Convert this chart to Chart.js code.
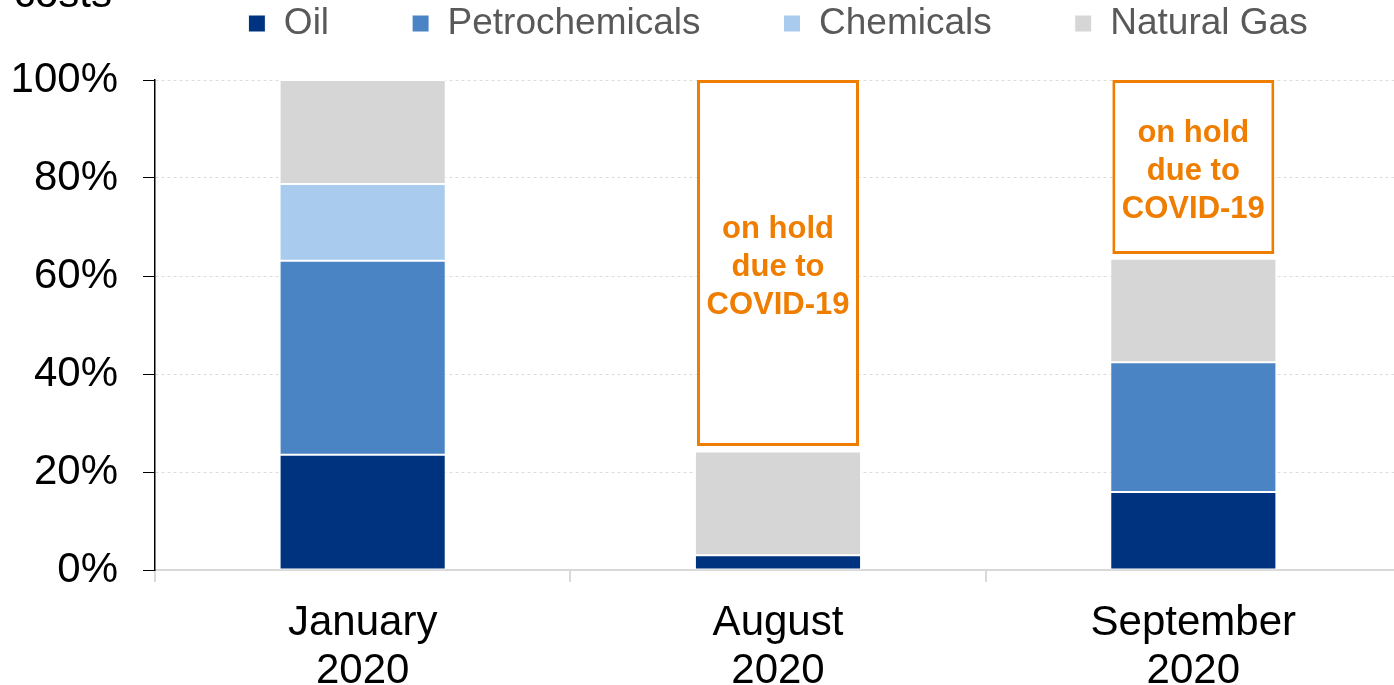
<!DOCTYPE html>
<html>
<head>
<meta charset="utf-8">
<title>Share of costs</title>
<script src="https://cdn.jsdelivr.net/npm/chart.js@4.4.1/dist/chart.umd.min.js"></script>
<style>
  html, body { margin: 0; padding: 0; background: #fff; overflow: hidden; }
  #wrap { width: 1402px; height: 700px; position: relative; }
</style>
</head>
<body>
<div id="wrap"><canvas id="costChart"></canvas></div>
<script>
// --- Data ---
const months = [['January', '2020'], ['August', '2020'], ['September', '2020']];
const oil = [23.5, 3.0, 15.9];
const petrochemicals = [39.6, null, 26.5];
const chemicals = [15.7, null, null];
const naturalGas = [21.2, 21.2, 21.1];

// surveys that were paused: box runs from holdFrom up to holdTo
const holdFrom = [null, 25.3, 64.5];
const holdTo = 100;
const holdText = ['on hold', 'due to', 'COVID-19'];

const yTicks = [0, 20, 40, 60, 80, 100];

const FONT = "'Liberation Sans', Arial, sans-serif";
const ORANGE = '#EE7D00';

// --- Plugins ---
// "costs" heading left over from the axis title, mostly above the top edge
const headingPlugin = {
    id: 'heading',
    afterDraw(chart) {
        const ctx = chart.ctx;
        ctx.save();
        ctx.font = '42px ' + FONT;
        ctx.fillStyle = '#000';
        ctx.textAlign = 'left';
        ctx.textBaseline = 'alphabetic';
        ctx.fillText('costs', 14, 7);
        ctx.restore();
    }
};

// legend uses wide label padding for the horizontal spacing;
// keep its box height fixed so the plot top stays put
const legendHeightPlugin = {
    id: 'legendHeight',
    afterInit(chart) {
        const lg = chart.legend;
        if (!lg) return;
        const fit = lg.fit.bind(lg);
        lg.fit = function () {
            fit();
            this.height = 158;
        };
    }
};

// text inside the on-hold boxes
const holdLabelPlugin = {
    id: 'holdLabels',
    afterDatasetsDraw(chart) {
        const idx = chart.data.datasets.findIndex(d => d.isHold);
        const meta = chart.getDatasetMeta(idx);
        const ctx = chart.ctx;
        ctx.save();
        ctx.font = 'bold 31px ' + FONT;
        ctx.fillStyle = ORANGE;
        ctx.textAlign = 'center';
        ctx.textBaseline = 'middle';
        meta.data.forEach((bar, i) => {
            if (holdFrom[i] === null) return;
            const cy = (bar.y + bar.base) / 2 + 4;
            const lh = 38;
            holdText.forEach((line, k) => {
                ctx.fillText(line, bar.x, cy + (k - (holdText.length - 1) / 2) * lh);
            });
        });
        ctx.restore();
    }
};

// --- Chart ---
function segment(label, data, color) {
    return {
        label: label,
        data: data,
        backgroundColor: color,
        borderColor: '#fff',
        borderWidth: 1,
        borderSkipped: false,
        grouped: false,
        categoryPercentage: 1,
        barPercentage: 0.4,
        xAxisID: 'x'
    };
}

const ctx = document.getElementById('costChart').getContext('2d');
const myChart = new Chart(ctx, {
    type: 'bar',
    data: {
        labels: months,
        datasets: [
            segment('Oil', oil, '#00337F'),
            segment('Petrochemicals', petrochemicals, '#4A84C4'),
            segment('Chemicals', chemicals, '#A9CBED'),
            segment('Natural Gas', naturalGas, '#D6D6D6'),
            {
                label: 'on hold',
                isHold: true,
                data: holdFrom.map(v => v === null ? null : [v, holdTo]),
                backgroundColor: '#fff',
                borderColor: ORANGE,
                borderWidth: 3,
                borderSkipped: false,
                grouped: false,
                categoryPercentage: 1,
                barPercentage: 0.39,
                xAxisID: 'x2'
            }
        ]
    },
    options: {
        responsive: true,
        maintainAspectRatio: false,
        animation: false,
        layout: { padding: { top: -78, right: 1, left: 0, bottom: 0 } },
        plugins: {
            tooltip: { enabled: false },
            legend: {
                position: 'top',
                fullSize: false,
                labels: {
                    font: { family: FONT, size: 37 },
                    color: '#595959',
                    boxWidth: 17,
                    boxHeight: 17,
                    padding: 83,
                    filter: item => item.text !== 'on hold'
                }
            }
        },
        scales: {
            x: {
                stacked: true,
                grid: {
                    offset: true,
                    drawOnChartArea: false,
                    tickLength: 12,
                    color: '#D9D9D9',
                    lineWidth: 2
                },
                border: { color: '#D9D9D9', width: 2 },
                ticks: {
                    color: '#000',
                    font: { family: FONT, size: 42, lineHeight: 1.13 },
                    padding: 18,
                    maxRotation: 0
                },
                afterFit(scale) { scale.height = 130; }
            },
            x2: {
                type: 'category',
                labels: months,
                display: false,
                stacked: false
            },
            y: {
                stacked: true,
                min: 0,
                max: 100,
                afterBuildTicks(scale) {
                    scale.ticks = yTicks.map(v => ({ value: v }));
                },
                ticks: {
                    color: '#000',
                    font: { family: FONT, size: 42 },
                    padding: 25,
                    callback: v => v + '%'
                },
                grid: {
                    color: '#DCDCDC',
                    tickColor: '#000',
                    tickLength: 12,
                    tickBorderDash: [],
                    lineWidth: 1
                },
                border: { color: '#000', width: 1.5, dash: [3, 3] },
                afterFit(scale) { scale.width = 155; }
            }
        }
    },
    plugins: [legendHeightPlugin, headingPlugin, holdLabelPlugin]
});
</script>
</body>
</html>
